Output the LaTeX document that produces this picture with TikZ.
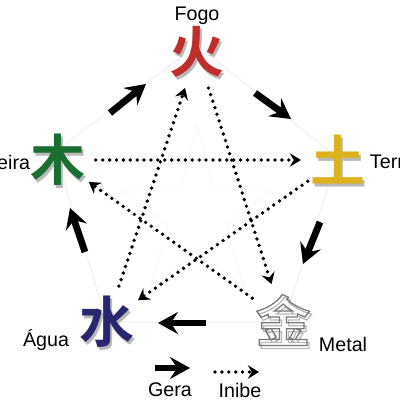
\documentclass[tikz,border=0pt]{standalone}
\usepackage{fontspec}
\setmainfont{Liberation Sans}
\newfontfamily\cjk{Noto Sans CJK SC Bold}
\usetikzlibrary{arrows.meta,calc}
\definecolor{Fogo}{RGB}{192,45,45}
\definecolor{Madeira}{RGB}{25,110,50}
\definecolor{Terra}{RGB}{222,178,30}
\definecolor{Agua}{RGB}{40,38,110}
\definecolor{Metal}{RGB}{120,120,120}
\newcommand*{\contorno}[1]{\special{pdf:literal direct 1 Tr 0.9 w}#1\special{pdf:literal direct 0 Tr}}

\begin{document}
\begin{tikzpicture}[x=0.025cm,y=-0.025cm,
	elemento/.style={circle,minimum size=1.35cm,inner sep=0pt,font=\cjk\fontsize{39}{39}\selectfont},
	sombra/.style={elemento,text=gray!55},
	rotulo/.style={font=\fontsize{14}{14}\selectfont},
	gera/.style={-{Stealth[length=5mm,width=5.5mm,inset=1.8mm]},line width=1.7mm},
	inibe/.style={-{Stealth[length=2.8mm,width=3.4mm,inset=1mm]},line width=2.7pt,line cap=round,dash pattern=on 0pt off 4.9pt}]
\useasboundingbox (0,0) rectangle (400,400);

% pentagono e estrela de fundo
\draw[gray!15,line width=0.6pt] (197,45)--(338,158)--(283,322)--(107,322)--(55,152)--cycle;
\draw[gray!7,line width=0.6pt] (197,125)--(214,190)--(272,190)--(226,226)--(244,288)--(197,250)--(150,288)--(168,226)--(122,190)--(180,190)--cycle;

% elementos
\node[sombra] (fogoS) at (199,55) {火};
\node[elemento,text=Fogo] (fogo) at (197,52) {火};
\node[sombra] (madeiraS) at (60,163) {木};
\node[elemento,text=Madeira] (madeira) at (58,160) {木};
\node[sombra] (terraS) at (340,163) {土};
\node[elemento,text=Terra] (terra) at (338,160) {土};
\node[sombra] (aguaS) at (109,325) {水};
\node[elemento,text=Agua] (agua) at (107,322) {水};
\node[sombra] (metalS) at (285,323) {\contorno{金}};
\node[elemento,text=Metal] (metal) at (283,320) {\contorno{金}};

% nomes
\node[rotulo] (tFogo) at (197,16) {Fogo};
\node[rotulo,anchor=east] (tMadeira) at (35,162) {Madeira};
\node[rotulo,anchor=west] (tTerra) at (365,162) {Terra};
\node[rotulo] (tAgua) at (46,340) {Água};
\node[rotulo] (tMetal) at (343,344) {Metal};

% ciclo de geracao
\coordinate (g1a) at (110,113); \coordinate (g1b) at (146,84);
\coordinate (g2a) at (255,93);  \coordinate (g2b) at (291,119);
\coordinate (g3a) at (320,222); \coordinate (g3b) at (303,264);
\coordinate (g4a) at (206,323); \coordinate (g4b) at (158,323);
\coordinate (g5a) at (85,252);  \coordinate (g5b) at (70,208);
\draw[gera] (g1a) -- (g1b);
\draw[gera] (g2a) -- (g2b);
\draw[gera] (g3a) -- (g3b);
\draw[gera] (g4a) -- (g4b);
\draw[gera] (g5a) -- (g5b);

% ciclo de inibicao
\draw[inibe] (agua) -- (fogo);
\draw[inibe] (fogo) -- (metal);
\draw[inibe] (metal) -- (madeira);
\draw[inibe] (madeira) -- (terra);
\draw[inibe] (terra) -- (agua);

% legenda
\coordinate (lg1) at (155,368); \coordinate (lg2) at (190,368);
\coordinate (li1) at (215,372); \coordinate (li2) at (259,372);
\draw[gera] (lg1) -- (lg2);
\draw[inibe] (li1) -- (li2);
\node[rotulo] (tGera) at (170,390) {Gera};
\node[rotulo] (tInibe) at (240,390) {Inibe};
\end{tikzpicture}
\end{document}
